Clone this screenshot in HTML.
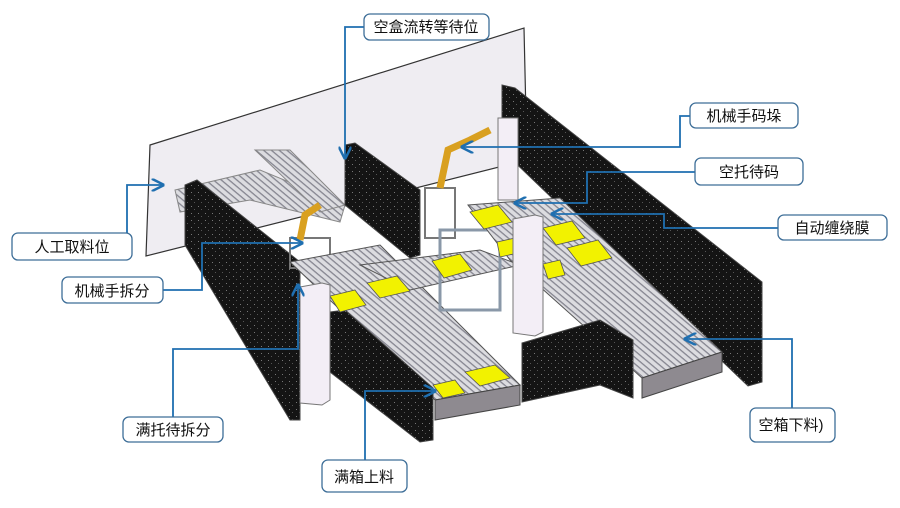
<!DOCTYPE html>
<html><head><meta charset="utf-8"><style>
html,body{margin:0;padding:0;background:#fff;}
svg{display:block;}
.lb{font-family:"Liberation Sans","Noto Sans CJK SC",sans-serif;font-size:15px;fill:#111;}
.bx{fill:#fff;stroke:#3d6e98;stroke-width:1.3;}
.ln{fill:none;stroke:#1f6fb0;stroke-width:1.8;}
.fence{fill:url(#mesh);stroke:#444;stroke-width:1;}
.conv{fill:#c8c8cc;stroke:#555;stroke-width:1;}
.pad{fill:#f2f200;stroke:#555;stroke-width:.8;}
.side{fill:#8e8a90;stroke:#444;stroke-width:1;}
.pil{fill:#f3eef6;stroke:#777;stroke-width:1;}
</style></head><body>
<svg width="900" height="508" viewBox="0 0 900 508" xmlns="http://www.w3.org/2000/svg">
<defs>
<marker id="ar" viewBox="0 0 10 10" refX="9" refY="5" markerWidth="7" markerHeight="7" orient="auto"><path d="M0,0 L10,5 L0,10" fill="none" stroke="#1f6fb0" stroke-width="2"/></marker>
<pattern id="rl" width="5" height="5" patternUnits="userSpaceOnUse" patternTransform="rotate(40)"><rect width="5" height="5" fill="#dcdce0"/><rect width="5" height="1.3" fill="#858590"/></pattern>
<pattern id="mesh" width="7" height="7" patternUnits="userSpaceOnUse"><rect width="7" height="7" fill="#141414"/><rect x="2" y="3" width="1" height="1" fill="#777"/><rect x="5" y="6" width="1" height="1" fill="#555"/></pattern>
</defs>
<polygon points="150,145 524,28 527,160 146,256" fill="#efedf2" stroke="#333" stroke-width="1.2"/>
<polygon points="175,190 260,170 345,205 340,222 250,200 180,212" fill="url(#rl)" stroke="#888"/>
<polygon points="255,150 290,150 345,205 320,212" fill="url(#rl)" stroke="#888"/>
<polygon points="345,145 355,143 420,190 420,255 410,258 345,205" class="fence"/>
<polygon points="185,185 197,180 300,262 300,420 290,420 185,245" class="fence"/>
<polygon points="502,85 515,88 762,282 762,382 748,386 502,150" class="fence"/>
<rect x="425" y="188" width="30" height="50" fill="none" stroke="#777" stroke-width="2"/>
<rect x="290" y="238" width="40" height="30" fill="none" stroke="#777" stroke-width="2"/>
<path d="M440,188 L448,150 L470,140 L490,130" stroke="#d9a020" stroke-width="7" fill="none"/>
<path d="M300,240 L305,215 L320,205" stroke="#d9a020" stroke-width="7" fill="none"/>
<rect x="498" y="118" width="20" height="82" class="pil"/>
<polygon points="290,262 380,245 520,385 435,400" fill="url(#rl)" stroke="#555"/>
<polygon points="435,400 520,385 520,405 435,420" class="side"/>
<polygon points="360,265 480,250 520,265 410,290" fill="url(#rl)" stroke="#555"/>
<rect x="440" y="230" width="60" height="80" fill="none" stroke="#8a98a8" stroke-width="3"/>
<polygon points="468,205 560,198 722,352 642,378 510,260" fill="url(#rl)" stroke="#555"/>
<polygon points="642,378 722,352 722,372 642,398" class="side"/>
<polygon points="330,312 345,310 433,388 433,440 420,442 330,372" class="fence"/>
<polygon points="522,343 600,320 633,340 633,398 600,385 522,402" class="fence"/>
<polygon points="470,212 498,205 512,222 484,229" class="pad"/>
<polygon points="543,228 572,221 585,238 556,245" class="pad"/>
<polygon points="567,248 598,240 612,258 581,266" class="pad"/>
<polygon points="497,242 515,238 518,253 500,257" class="pad"/>
<polygon points="543,264 560,260 565,275 548,279" class="pad"/>
<polygon points="432,261 460,254 472,270 444,278" class="pad"/>
<polygon points="367,283 397,276 410,291 380,298" class="pad"/>
<polygon points="330,296 355,290 366,305 340,312" class="pad"/>
<polygon points="465,372 495,365 510,378 480,386" class="pad"/>
<polygon points="433,385 455,380 465,393 443,398" class="pad"/>
<polygon points="300,287 322,283 330,285 330,400 322,405 300,403" class="pil"/>
<polygon points="513,219 535,215 543,217 543,332 535,336 513,333" class="pil"/>
<path class="ln" marker-end="url(#ar)" d="M364,27 H345 V158"/>
<path class="ln" marker-end="url(#ar)" d="M690,116 H680 V147 H462"/>
<path class="ln" marker-end="url(#ar)" d="M695,172 H587 V203 H515"/>
<path class="ln" marker-end="url(#ar)" d="M778,228 H664 V214 H552"/>
<path class="ln" marker-end="url(#ar)" d="M127,233 V185 H163"/>
<path class="ln" marker-end="url(#ar)" d="M163,290 H202 V243 H302"/>
<path class="ln" marker-end="url(#ar)" d="M173,417 V349 H298 V285"/>
<path class="ln" marker-end="url(#ar)" d="M365,460 V391 H435"/>
<path class="ln" marker-end="url(#ar)" d="M792,408 V339 H685"/>
<rect class="bx" x="364" y="14" width="125" height="26" rx="6"/><text class="lb" x="426" y="32" text-anchor="middle">空盒流转等待位</text>
<rect class="bx" x="690" y="103" width="108" height="25" rx="6"/><text class="lb" x="744" y="121" text-anchor="middle">机械手码垛</text>
<rect class="bx" x="695" y="158" width="108" height="27" rx="6"/><text class="lb" x="749" y="177" text-anchor="middle">空托待码</text>
<rect class="bx" x="778" y="215" width="109" height="25" rx="6"/><text class="lb" x="832" y="233" text-anchor="middle">自动缠绕膜</text>
<rect class="bx" x="12" y="233" width="120" height="27" rx="6"/><text class="lb" x="72" y="252" text-anchor="middle">人工取料位</text>
<rect class="bx" x="62" y="277" width="101" height="26" rx="6"/><text class="lb" x="112" y="296" text-anchor="middle">机械手拆分</text>
<rect class="bx" x="123" y="417" width="100" height="25" rx="6"/><text class="lb" x="173" y="435" text-anchor="middle">满托待拆分</text>
<rect class="bx" x="322" y="460" width="85" height="32" rx="6"/><text class="lb" x="364" y="482" text-anchor="middle">满箱上料</text>
<rect class="bx" x="750" y="408" width="85" height="34" rx="6"/><text class="lb" x="791" y="430" text-anchor="middle">空箱下料)</text>
</svg>
</body></html>
